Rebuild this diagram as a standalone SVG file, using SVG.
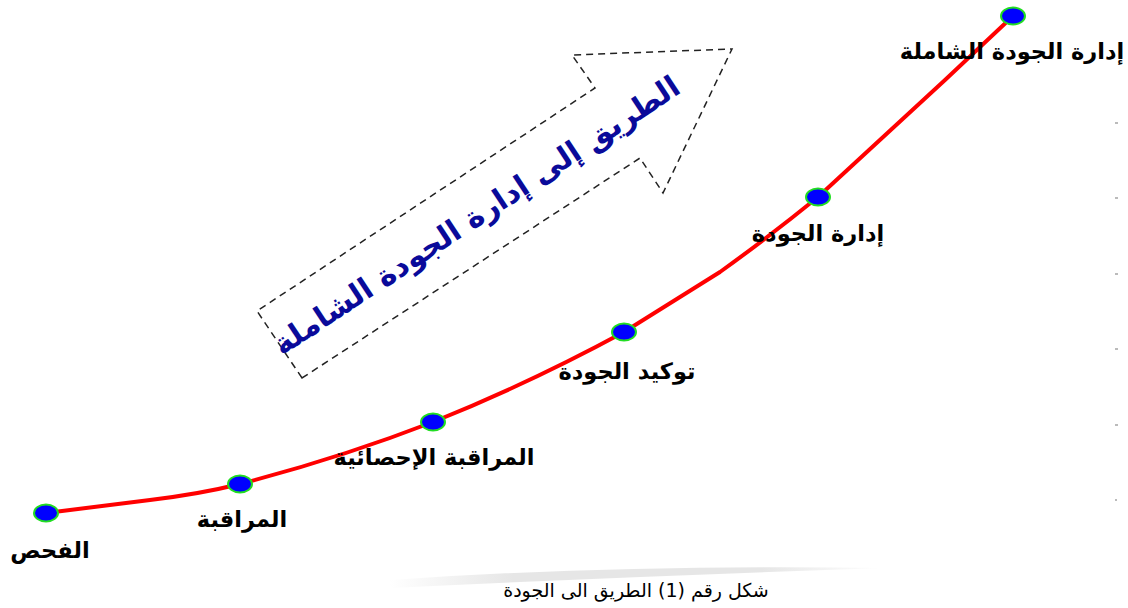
<svg xmlns="http://www.w3.org/2000/svg" width="1128" height="608" viewBox="0 0 1128 608">
<style>
.lbl{font-family:"DejaVu Sans","Noto Sans",sans-serif;font-weight:bold;font-size:22.5px;fill:#000;text-anchor:middle}
.dot{fill:#0000ff;stroke:#22dd22;stroke-width:2}
.tick{fill:#bbbbbb}
</style>
<defs>
<linearGradient id="sw" x1="0" y1="0" x2="1" y2="0">
<stop offset="0" stop-color="#e6e6e6" stop-opacity="0"/>
<stop offset="0.25" stop-color="#e6e6e6" stop-opacity="1"/>
<stop offset="0.75" stop-color="#e6e6e6" stop-opacity="1"/>
<stop offset="1" stop-color="#e6e6e6" stop-opacity="0"/>
</linearGradient>
</defs>
<rect width="1128" height="608" fill="#fff"/>
<path d="M390,580 Q620,564 885,568 Q640,576 390,588 Z" fill="url(#sw)"/>
<g id="arrow">
<polygon points="302,378 257,311 595,88 572,55 732,49 663,193 640,158" fill="none" stroke="#222" stroke-width="1.5" stroke-dasharray="7,5"/>
<text x="0" y="0" transform="translate(482,224) rotate(-33.4)" direction="rtl" style="font-family:'DejaVu Sans',sans-serif;font-weight:bold;font-size:30px;fill:#0a0a9a;text-anchor:middle">الطريق إلى إدارة الجودة الشاملة</text>
</g>
<g id="connectors">
<path d="M46,513 L150,500 Q200,494 240,484 Q340,458 433,422 Q530,383 624,332 L720,272 Q770,236 818,197 Q880,140 945,80 L1013,16" fill="none" stroke="#ff0000" stroke-width="4" stroke-linejoin="round"/>
</g>
<g id="n1"><ellipse class="dot" cx="46" cy="513" rx="12" ry="8.5"/><text class="lbl" x="50" y="558" direction="rtl">الفحص</text></g>
<g id="n2"><ellipse class="dot" cx="240" cy="484" rx="12" ry="8.5"/><text class="lbl" x="242" y="527" direction="rtl">المراقبة</text></g>
<g id="n3"><ellipse class="dot" cx="433" cy="422" rx="12" ry="8.5"/><text class="lbl" x="434" y="465" direction="rtl">المراقبة الإحصائية</text></g>
<g id="n4"><ellipse class="dot" cx="624" cy="332" rx="12" ry="8.5"/><text class="lbl" x="627" y="379" direction="rtl">توكيد الجودة</text></g>
<g id="n5"><ellipse class="dot" cx="818" cy="197" rx="12" ry="8.5"/><text class="lbl" x="818" y="241" direction="rtl">إدارة الجودة</text></g>
<g id="n6"><ellipse class="dot" cx="1013" cy="16" rx="12" ry="8.5"/><text class="lbl" x="1012" y="59" direction="rtl">إدارة الجودة الشاملة</text></g>
<g id="ticks">
<rect class="tick" x="1115" y="122" width="3" height="2"/>
<rect class="tick" x="1115" y="197" width="3" height="2"/>
<rect class="tick" x="1115" y="273" width="3" height="2"/>
<rect class="tick" x="1115" y="348" width="3" height="2"/>
<rect class="tick" x="1115" y="424" width="3" height="2"/>
<rect class="tick" x="1115" y="499" width="2" height="2"/>
</g>
<text x="636" y="597" direction="rtl" style="font-family:'DejaVu Sans',sans-serif;font-size:19px;fill:#000;text-anchor:middle">شكل رقم (1) الطريق الى الجودة</text>
</svg>
